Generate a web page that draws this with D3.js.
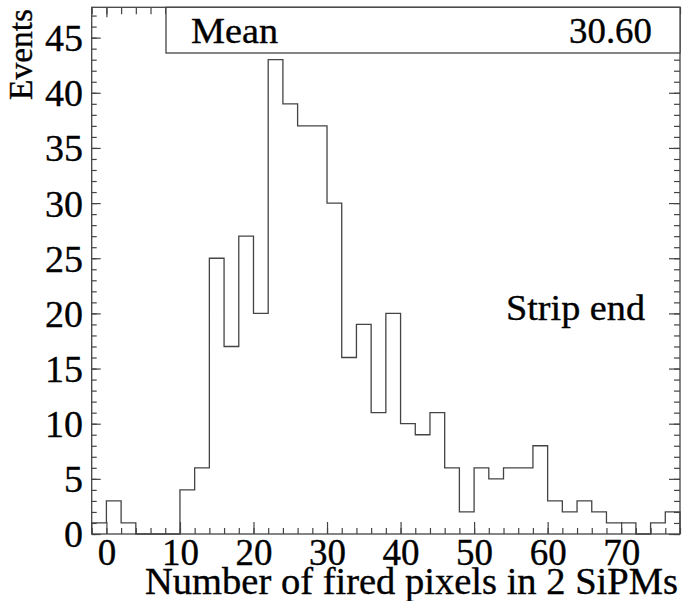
<!DOCTYPE html>
<html>
<head>
<meta charset="utf-8">
<script src="https://cdn.jsdelivr.net/npm/d3@7"></script>
<style>
  html, body { margin: 0; padding: 0; background: #fff; }
</style>
</head>
<body>
<svg id="chart" width="685" height="601"></svg>
<script>
// Histogram of fired pixels, bin width 2 starting at -2
const binStart = -2;
const binWidth = 2;
const counts = [1, 3, 1, 0, 0, 0, 4, 6, 25, 17, 27, 20, 43, 39, 37, 37, 30, 16, 19, 11,
                20, 10, 9, 11, 6, 2, 6, 5, 6, 6, 8, 3, 2, 3, 2, 1, 1, 0, 1, 2];
const xDomain = [-2, 78];
const yDomain = [0, 47.75];
const xMajorTicks = [0, 10, 20, 30, 40, 50, 60, 70];
const yMajorTicks = [0, 5, 10, 15, 20, 25, 30, 35, 40, 45];
const xTitle = "Number of fired pixels in 2 SiPMs";
const yTitle = "Events";
const statLabel = "Mean";
const annotation = "Strip end";

const bins = counts.map((v, i) => ({ x0: binStart + i * binWidth, x1: binStart + (i + 1) * binWidth, v }));
const total = d3.sum(bins, b => b.v);
const mean = d3.sum(bins, b => b.v * (b.x0 + b.x1) / 2) / total;

const L = 91.7, R = 680, T = 7.3, B = 534;
const ink = "#444";
const serif = "'Liberation Serif', 'Times New Roman', Times, serif";

const svg = d3.select("#chart");
const x = d3.scaleLinear().domain(xDomain).range([L, R]);
const y = d3.scaleLinear().domain(yDomain).range([B, T]);

const xMinor = d3.range(xDomain[0], xDomain[1] + 0.001, 2);
const yMinor = d3.range(0, 48, 1);

// serif text, lightly stroked so the glyphs read as heavy as the frame
function textStyle(sel, size) {
  sel.style("font-family", serif)
     .style("font-size", size + "px")
     .style("fill", "#000")
     .style("stroke", "#000")
     .style("stroke-width", 0.35);
}

function styleAxis(g) {
  g.select(".domain").remove();
  g.selectAll(".tick line").attr("stroke", ink).attr("stroke-width", 1.2);
}

// minor ticks on all four sides
svg.append("g").attr("transform", `translate(0,${B})`)
  .call(d3.axisBottom(x).tickValues(xMinor).tickSize(-6).tickFormat(""))
  .call(styleAxis);
svg.append("g").attr("transform", `translate(0,${T})`)
  .call(d3.axisTop(x).tickValues(xMinor).tickSize(-7).tickFormat(""))
  .call(styleAxis);
svg.append("g").attr("transform", `translate(${L},0)`)
  .call(d3.axisLeft(y).tickValues(yMinor).tickSize(-5).tickFormat(""))
  .call(styleAxis);
svg.append("g").attr("transform", `translate(${R},0)`)
  .call(d3.axisRight(y).tickValues(yMinor).tickSize(-6).tickFormat(""))
  .call(styleAxis);

// major ticks and labels
const xAx = svg.append("g").attr("transform", `translate(0,${B})`)
  .call(d3.axisBottom(x).tickValues(xMajorTicks).tickSize(-12).tickPadding(5).tickFormat(d3.format("d")))
  .call(styleAxis);
xAx.selectAll("text").call(textStyle, 37);

svg.append("g").attr("transform", `translate(0,${T})`)
  .call(d3.axisTop(x).tickValues(xMajorTicks).tickSize(-10).tickFormat(""))
  .call(styleAxis);

const yAx = svg.append("g").attr("transform", `translate(${L},0)`)
  .call(d3.axisLeft(y).tickValues(yMajorTicks).tickSize(-9).tickPadding(8.7).tickFormat(d3.format("d")))
  .call(styleAxis);
yAx.selectAll("text").call(textStyle, 38).attr("dy", "0.34em");

svg.append("g").attr("transform", `translate(${R},0)`)
  .call(d3.axisRight(y).tickValues(yMajorTicks).tickSize(-11).tickFormat(""))
  .call(styleAxis);

// histogram outline
const pts = [[xDomain[0], 0]];
bins.forEach(b => { pts.push([b.x0, b.v], [b.x1, b.v]); });
pts.push([xDomain[1], 0]);
svg.append("path")
  .attr("d", d3.line().x(d => x(d[0])).y(d => y(d[1]))(pts))
  .attr("fill", "none")
  .attr("stroke", ink)
  .attr("stroke-width", 1.3);

// frame
svg.append("rect")
  .attr("x", L).attr("y", T).attr("width", R - L).attr("height", B - T)
  .attr("fill", "none").attr("stroke", ink).attr("stroke-width", 1.3);

// statistics box
svg.append("rect")
  .attr("x", 166).attr("y", T).attr("width", R - 166).attr("height", 53 - T)
  .attr("fill", "#fff").attr("stroke", ink).attr("stroke-width", 1.3);
svg.append("text")
  .attr("x", 191).attr("y", 43)
  .attr("textLength", 87).attr("lengthAdjust", "spacingAndGlyphs")
  .call(textStyle, 36)
  .text(statLabel);
svg.append("text")
  .attr("x", 652).attr("y", 43)
  .attr("text-anchor", "end")
  .attr("textLength", 83).attr("lengthAdjust", "spacingAndGlyphs")
  .call(textStyle, 36)
  .text(mean.toFixed(2));

// annotation
svg.append("text")
  .attr("x", 506).attr("y", 320)
  .attr("textLength", 139).attr("lengthAdjust", "spacingAndGlyphs")
  .call(textStyle, 36)
  .text(annotation);

// axis titles
svg.append("text")
  .attr("x", 678).attr("y", 594)
  .attr("text-anchor", "end")
  .attr("textLength", 533).attr("lengthAdjust", "spacingAndGlyphs")
  .call(textStyle, 37)
  .text(xTitle);

svg.append("text")
  .attr("transform", "translate(31.5,100) rotate(-90)")
  .attr("textLength", 91).attr("lengthAdjust", "spacingAndGlyphs")
  .call(textStyle, 33)
  .text(yTitle);
</script>
</body>
</html>
